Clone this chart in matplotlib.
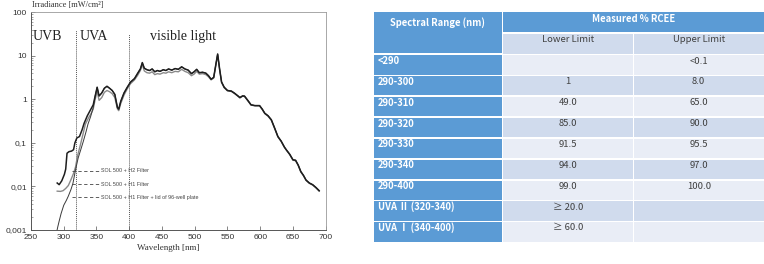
import matplotlib
matplotlib.use("Agg")
import matplotlib.pyplot as plt
from matplotlib.patches import Rectangle
from matplotlib.ticker import FixedLocator, FixedFormatter, LogLocator, NullFormatter

# ---------------- data ----------------
wl_uv_h2 = [290, 293, 297, 301, 303, 305, 308, 312, 315, 317, 320, 324, 328, 331, 336, 341, 345]
irr_uv_h2 = [0.012, 0.011, 0.0135, 0.019, 0.025, 0.058, 0.063, 0.065, 0.07, 0.1, 0.13, 0.14, 0.2, 0.28, 0.42, 0.58, 0.75]

wl_uv_h1 = [290, 295, 299, 303, 307, 311, 315, 318, 321, 325, 329, 333, 338, 342, 345]
irr_uv_h1 = [0.0078, 0.0077, 0.008, 0.009, 0.0105, 0.0143, 0.02, 0.028, 0.05, 0.085, 0.15, 0.27, 0.38, 0.48, 0.6]

wl_uv_lid = [289.5, 291, 293, 296, 300, 304, 307, 311, 314, 318, 322, 326, 330, 334, 337, 341, 345]
irr_uv_lid = [0.00095, 0.0012, 0.0016, 0.0024, 0.0037, 0.0048, 0.006, 0.0085, 0.0117, 0.024, 0.045, 0.07, 0.11, 0.18, 0.27, 0.4, 0.65]

wl_vis = [348, 351, 354, 358, 362, 366, 370, 374, 378, 382, 384, 387, 392, 397, 402, 408,
          413, 417, 420, 423, 427, 431, 435, 439, 443, 447, 452, 456, 460, 465, 470, 475,
          480, 485, 490, 495, 499, 503, 507, 512, 517, 521, 525, 529, 532, 535, 538, 541,
          545, 550, 556, 561, 566, 569, 573, 576, 581, 586, 592, 599, 603, 607, 612, 617,
          622, 627, 632, 637, 640, 645, 650, 654, 658, 662, 666, 670, 675, 680, 685, 690]
irr_vis_h2 = [1.2, 1.9, 1.2, 1.4, 1.8, 2.0, 1.8, 1.6, 1.3, 0.65, 0.6, 0.9, 1.4, 1.9, 2.5, 3.0,
              4.0, 5.0, 7.0, 5.2, 4.8, 4.6, 5.0, 4.3, 4.6, 4.4, 4.8, 4.6, 5.0, 4.7, 5.1, 4.9,
              5.6, 5.0, 4.7, 3.9, 4.3, 4.9, 4.1, 4.2, 4.0, 3.5, 2.9, 3.2, 6.0, 11.0, 5.0, 2.5,
              1.9, 1.6, 1.55, 1.38, 1.2, 1.1, 1.2, 1.19, 0.95, 0.75, 0.72, 0.72, 0.6, 0.48, 0.42, 0.34,
              0.22, 0.14, 0.11, 0.08, 0.069, 0.055, 0.041, 0.04, 0.031, 0.022, 0.018, 0.014, 0.012, 0.011, 0.0095, 0.008]
irr_vis_h1 = [1.0, 1.5, 0.95, 1.1, 1.45, 1.6, 1.5, 1.35, 1.1, 0.6, 0.55, 0.8, 1.25, 1.75, 2.3, 2.8,
              3.6, 4.6, 6.3, 4.5, 4.1, 4.0, 4.3, 3.7, 3.9, 3.8, 4.1, 4.0, 4.3, 4.1, 4.4, 4.3,
              4.9, 4.4, 4.1, 3.5, 3.8, 4.4, 3.8, 3.9, 3.7, 3.3, 2.8, 3.1, 5.8, 10.5, 4.8, 2.45,
              1.85, 1.57, 1.52, 1.35, 1.18, 1.08, 1.18, 1.17, 0.93, 0.74, 0.71, 0.71, 0.59, 0.47, 0.41, 0.33,
              0.215, 0.138, 0.108, 0.079, 0.068, 0.054, 0.04, 0.039, 0.0305, 0.0215, 0.0177, 0.0138, 0.0118, 0.0108, 0.0093, 0.0078]

series_labels = ["SOL 500 + H2 Filter", "SOL 500 + H1 Filter", "SOL 500 + H1 Filter + lid of 96-well plate"]
legend_levels = [0.0227, 0.0112, 0.00565]
region_bounds = [318, 400]
region_tops = [40, 32]
region_names = ["UVB", "UVA", "visible light"]
region_text_x = [253, 325, 431]

y_ticks = [0.001, 0.01, 0.1, 1, 10, 100]
y_tick_labels = ["0,001", "0,01", "0,1", "1", "10", "100"]
x_ticks = [250, 300, 350, 400, 450, 500, 550, 600, 650, 700]

table_ranges = ["<290", "290-300", "290-310", "290-320", "290-330", "290-340", "290-400",
                "UVA \u2161 (320-340)", "UVA \u2160 (340-400)"]
table_lower = ["", "1", "49.0", "85.0", "91.5", "94.0", "99.0", "\u2265 20.0", "\u2265 60.0"]
table_upper = ["<0.1", "8.0", "65.0", "90.0", "95.5", "97.0", "100.0", "", ""]

# ---------------- figure ----------------
W, H = 764, 264
fig = plt.figure(figsize=(W / 100, H / 100), dpi=100)

def frac_box(x0, y0, x1, y1):
    return [x0 / W, 1 - y1 / H, (x1 - x0) / W, (y1 - y0) / H]

ax = fig.add_axes(frac_box(31, 12.3, 325.7, 230))
ax.set_yscale("log")
ax.set_xlim(250, 700)
ax.set_ylim(0.001, 100)

sans = "Liberation Sans"
serif = "Liberation Serif"

# curves
ax.plot(wl_uv_lid + wl_vis, irr_uv_lid + irr_vis_h2, color="#3a3a3a", lw=0.7, zorder=3)
ax.plot(wl_uv_h1 + wl_vis, irr_uv_h1 + irr_vis_h1, color="#8a8a8a", lw=1.0, zorder=2)
ax.plot(wl_uv_h2 + wl_vis, irr_uv_h2 + irr_vis_h2, color="#1e1e1e", lw=1.1, zorder=4)

# region boundaries
for xb, yt in zip(region_bounds, region_tops):
    ax.plot([xb, xb], [0.001, yt], color="#555555", lw=0.7, ls=(0, (1, 1)), zorder=1)
for name, tx in zip(region_names, region_text_x):
    ax.text(tx, 28, name, family=serif, fontsize=10, color="#222222", va="center", ha="left")

# legend-like labels
for lab, lv in zip(series_labels, legend_levels):
    ax.plot([313, 355], [lv, lv], color="#444444", lw=0.6, ls=(0, (4, 3)), zorder=5)
    ax.text(357, lv, lab, family=sans, fontsize=3.9, color="#444444", va="center", ha="left")

# axes styling
for s in ["top", "right"]:
    ax.spines[s].set_color("#9a9a9a")
    ax.spines[s].set_linewidth(0.6)
for s in ["left", "bottom"]:
    ax.spines[s].set_color("#555555")
    ax.spines[s].set_linewidth(0.7)
ax.yaxis.set_major_locator(FixedLocator(y_ticks))
ax.yaxis.set_major_formatter(FixedFormatter(y_tick_labels))
ax.yaxis.set_minor_locator(LogLocator(base=10, subs=range(2, 10)))
ax.yaxis.set_minor_formatter(NullFormatter())
ax.set_xticks(x_ticks)
ax.tick_params(axis="both", which="major", direction="in", length=3, width=0.5,
               labelsize=6, colors="#555555", labelcolor="#333333", pad=3)
ax.tick_params(axis="y", which="minor", direction="in", length=1.5, width=0.4, colors="#666666")
for lab in ax.get_xticklabels() + ax.get_yticklabels():
    lab.set_family(sans)

fig.text(32 / W, 1 - 5.5 / H, "Irradiance [mW/cm\u00b2]", family=serif, fontsize=6,
         color="#333333", ha="left", va="center")
fig.text(168 / W, 1 - 248 / H, "Wavelength [nm]", family=serif, fontsize=6.5,
         color="#333333", ha="center", va="center")

# ---------------- table ----------------
tx0, ty0, tx1, ty1 = 373, 12.3, 764, 242.3
tax = fig.add_axes(frac_box(tx0, ty0, tx1, ty1))
tax.set_xlim(tx0, tx1)
tax.set_ylim(ty1, ty0)
tax.axis("off")

blue = "#5b9bd5"
dark_row = "#d0dbed"
light_row = "#e9edf6"
c0, c1, c2, c3 = 373, 502.5, 633.5, 764
g = 0.8

def cell(x0, y0, x1, y1, color):
    tax.add_patch(Rectangle((x0 + g, y0 + g), x1 - x0 - 2 * g, y1 - y0 - 2 * g,
                            facecolor=color, edgecolor="none"))

h1b = 33.0
hb = 54.5
cell(c0, ty0 - g, c1, hb - 0.7, blue)
cell(c1, ty0 - g, c3 + g, h1b, blue)
cell(c1, h1b + 0.5, c2, hb, dark_row)
cell(c2, h1b + 0.5, c3 + g, hb, dark_row)

tkw = dict(family=["Noto Sans CJK KR", "DejaVu Sans"], fontsize=6.8)
tax.text((c0 + c1) / 2, 22.3, "Spectral Range (nm)", color="white", fontweight="bold",
         ha="center", va="center", **tkw)
tax.text((c1 + c3) / 2, 18.8, "Measured % RCEE", color="white", fontweight="bold",
         ha="center", va="center", **tkw)
tax.text((c1 + c2) / 2, 39.6, "Lower Limit", color="#404040", ha="center", va="center", **tkw)
tax.text((c2 + c3) / 2, 39.6, "Upper Limit", color="#404040", ha="center", va="center", **tkw)

n = len(table_ranges)
rh = (ty1 - hb) / n
for i, (r, lo, up) in enumerate(zip(table_ranges, table_lower, table_upper)):
    y0 = hb + i * rh
    y1 = y0 + rh
    shade = light_row if i % 2 == 0 else dark_row
    cell(c0, y0, c1, y1, blue)
    cell(c1, y0, c2, y1, shade)
    cell(c2, y0, c3 + g, y1, shade)
    ty = y0 + 6.5
    tax.text(c0 + 5, ty, r, color="white", fontweight="bold", ha="left", va="center", **tkw)
    tax.text((c1 + c2) / 2, ty, lo, color="#404040", ha="center", va="center", **tkw)
    tax.text((c2 + c3) / 2, ty, up, color="#404040", ha="center", va="center", **tkw)

fig.savefig("out.png", dpi=100, facecolor="white")
